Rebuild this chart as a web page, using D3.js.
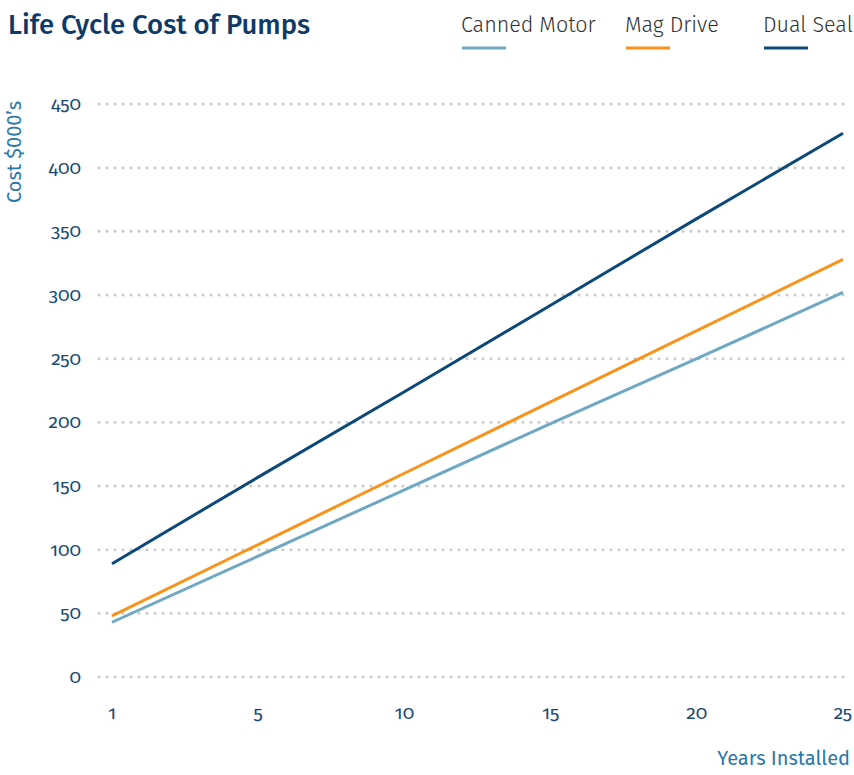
<!DOCTYPE html>
<html>
<head>
<meta charset="utf-8">
<script src="https://cdn.jsdelivr.net/npm/d3@7"></script>
<style>
  body { margin: 0; background: #fff; }
  text { font-family: "Fira Sans", "Open Sans", "Noto Sans", sans-serif; }
  .num { font-feature-settings: "onum"; font-variant-numeric: oldstyle-nums; }
</style>
</head>
<body>
<div id="chart"></div>
<script>
// categories on the x axis
var years = ["1", "5", "10", "15", "20", "25"];
// series values ($000's)
var cannedMotor = [43, 95, 147, 199, 250, 302];
var magDrive = [48, 104, 160, 216, 272, 328];
var dualSeal = [89, 157, 224, 292, 360, 427];
var yTicks = [0, 50, 100, 150, 200, 250, 300, 350, 400, 450];

var series = [
  { name: "Canned Motor", values: cannedMotor, color: "#6ea8c3", lx: 461 },
  { name: "Mag Drive", values: magDrive, color: "#f7941d", lx: 625 },
  { name: "Dual Seal", values: dualSeal, color: "#0c4878", lx: 763 },
];

const width = 854,
  height = 775;

var svg = d3
  .select("#chart")
  .append("svg")
  .attr("width", width)
  .attr("height", height);

var x = d3.scalePoint().domain(years).range([112, 843]);
var y = d3.scaleLinear().domain([0, 450]).range([677, 104]);

//title
svg
  .append("text")
  .attr("x", 8)
  .attr("y", 34)
  .attr("font-size", 27.5)
  .attr("font-weight", 500)
  .attr("fill", "#0d3b69")
  .text("Life Cycle Cost of Pumps");

//legend
series.forEach((s) => {
  svg
    .append("text")
    .attr("x", s.lx)
    .attr("y", 32)
    .attr("font-size", 21.5)
    .attr("font-weight", 300)
    .attr("fill", "#333")
    .text(s.name);
  svg
    .append("line")
    .attr("x1", s.lx + 1)
    .attr("x2", s.lx + 45)
    .attr("y1", 48)
    .attr("y2", 48)
    .attr("stroke", s.color)
    .attr("stroke-width", 3);
});

//dotted grid lines
svg
  .selectAll(".grid")
  .data(yTicks)
  .join("line")
  .attr("class", "grid")
  .attr("x1", 99)
  .attr("x2", 850)
  .attr("y1", (d) => y(d))
  .attr("y2", (d) => y(d))
  .attr("stroke", "#c9c9c9")
  .attr("stroke-width", 3)
  .attr("stroke-linecap", "round")
  .attr("stroke-dasharray", "0,8");

//y tick labels
svg
  .selectAll(".ylab")
  .data(yTicks)
  .join("text")
  .attr("class", "ylab num")
  .attr("x", 81)
  .attr("y", (d) => y(d) + 6)
  .attr("text-anchor", "end")
  .attr("font-size", 19)
  .attr("fill", "#1b4a73")
  .text((d) => d);

//x tick labels
svg
  .selectAll(".xlab")
  .data(years)
  .join("text")
  .attr("class", "xlab num")
  .attr("x", (d) => x(d))
  .attr("y", 719)
  .attr("text-anchor", "middle")
  .attr("font-size", 19)
  .attr("fill", "#1b4a73")
  .text((d) => d);

//axis titles
svg
  .append("text")
  .attr("transform", "translate(21,152) rotate(-90)")
  .attr("text-anchor", "middle")
  .attr("font-size", 20)
  .attr("fill", "#2a78a8")
  .text("Cost $000\u2019s");

svg
  .append("text")
  .attr("x", 850)
  .attr("y", 765)
  .attr("text-anchor", "end")
  .attr("font-size", 20)
  .attr("fill", "#2a78a8")
  .text("Years Installed");

//lines
var line = d3
  .line()
  .x((d, i) => x(years[i]))
  .y((d) => y(d));

series.forEach((s) => {
  svg
    .append("path")
    .attr("d", line(s.values))
    .attr("fill", "none")
    .attr("stroke", s.color)
    .attr("stroke-width", 3);
});
</script>
</body>
</html>
